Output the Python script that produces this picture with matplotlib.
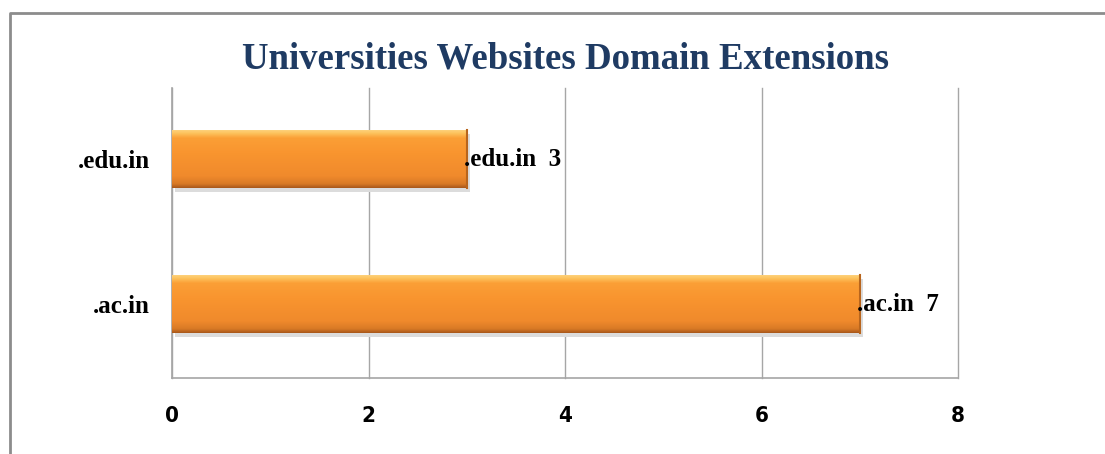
import numpy as np
import matplotlib
matplotlib.use("Agg")
import matplotlib.pyplot as plt
from matplotlib.colors import LinearSegmentedColormap
from matplotlib.lines import Line2D

categories = [".ac.in", ".edu.in"]
counts = [7, 3]
xticks = [0, 2, 4, 6, 8]
title = "Universities Websites Domain Extensions"

SERIF = "Liberation Serif"
fig = plt.figure(figsize=(11.05, 4.54), dpi=100)
ax = fig.add_axes([0.1557, 0.1674, 0.7113, 0.6388])

# outer frame of the chart (cropped on right / bottom)
fig.add_artist(Line2D([0.0095, 0.0095, 1.0], [0.0, 0.971, 0.971],
                      transform=fig.transFigure, color="#8c8c8c", lw=2))

pos = np.arange(len(categories))
bars = ax.barh(pos, counts, height=0.4, color="#f7922e", edgecolor="none", zorder=3)

# orange bevel: vertical gradient clipped to each bar, plus a soft shadow
grad = LinearSegmentedColormap.from_list(
    "bev", [(0.0, "#a9581b"), (0.07, "#d97a26"), (0.2, "#f08a2c"),
            (0.6, "#f9952f"), (0.85, "#fb9f36"), (0.93, "#fdc25c"), (1.0, "#fed684")])
g = np.linspace(0, 1, 128).reshape(-1, 1)
for b in bars:
    x0, y0, w, h = b.get_x(), b.get_y(), b.get_width(), b.get_height()
    ax.add_patch(plt.Rectangle((x0 + 0.03, y0 - 0.03), w, h, color="#dcdcdc",
                               zorder=2, lw=0))
    im = ax.imshow(g, cmap=grad, aspect="auto", origin="lower",
                   extent=(x0, x0 + w, y0, y0 + h), zorder=4)
    im.set_clip_path(b)
    ax.plot([x0 + w, x0 + w], [y0, y0 + h], color="#b8651d", lw=1.5, zorder=5)

for b, c, v in zip(bars, categories, counts):
    ax.text(b.get_width() - 0.03, b.get_y() + b.get_height() / 2, f"{c}  {v}",
            va="center", ha="left", fontsize=18, fontweight="bold",
            family=SERIF, color="black", zorder=6)

ax.set_xlim(0, 8)
ax.set_ylim(-0.51, 1.49)
ax.set_xticks(xticks)
ax.set_xticklabels([str(t) for t in xticks], fontsize=16, fontweight="bold",
                   family="DejaVu Sans", fontstretch="condensed")
ax.set_yticks(pos)
ax.set_yticklabels(categories, fontsize=18, fontweight="bold", family=SERIF)
ax.tick_params(axis="both", length=0)
ax.tick_params(axis="x", pad=20)
ax.tick_params(axis="y", pad=16)
ax.grid(axis="x", color="#a6a6a6", lw=1, zorder=0)
for gl in ax.get_xgridlines():
    gl.set_clip_on(False)
ax.set_axisbelow(True)
for s in ["top", "right"]:
    ax.spines[s].set_visible(False)
for s in ["left", "bottom"]:
    ax.spines[s].set_color("#a6a6a6")
    ax.spines[s].set_linewidth(1.2)

fig.text(0.512, 0.87, title, ha="center", va="center", fontsize=26.6,
         fontweight="bold", family=SERIF, color="#1f3b63")

fig.savefig("out.png", dpi=100)
